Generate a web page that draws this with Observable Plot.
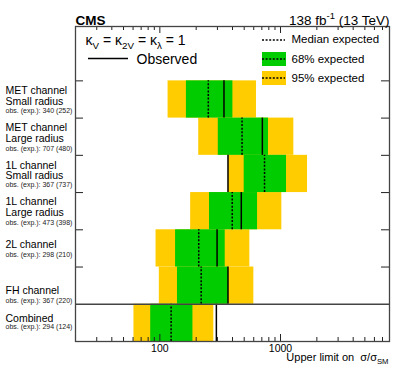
<!DOCTYPE html>
<html><head><meta charset="utf-8">
<script src="https://cdn.jsdelivr.net/npm/d3@7"></script>
<script src="https://cdn.jsdelivr.net/npm/@observablehq/plot@0.6"></script>
<style>body{margin:0;background:#fff} svg{display:block}</style>
</head><body><div id="chart"></div>
<script>
// ---- data ----
const channels = ["MET channel\nSmall radius", "MET channel\nLarge radius", "1L channel\nSmall radius", "1L channel\nLarge radius", "2L channel", "FH channel", "Combined"];
const observed = [340, 707, 367, 473, 298, 367, 294];
const expected = [252, 480, 737, 398, 210, 220, 124];
const low95  = [117, 210, 370, 180, 93, 99, 61];
const low68  = [166, 305, 500, 258, 135, 140, 84];
const high68 = [403, 795, 1121, 645, 348, 371, 188];
const high95 = [632, 1289, 1674, 1025, 557, 601, 280];
const majorTicks = [100, 1000];
const minorTicks = [30,40,50,60,70,80,90,200,300,400,500,600,700,800,900,2000,3000,4000,5000,6000,7000];
const xDomain = [20, 8000];
const legendLabels = ["Median expected", "68% expected", "95% expected"];

// ---- layout ----
const W = 399, H = 371, mL = 75, mR = 10, mT = 26, mB = 30;
const innerW = W - mL - mR, innerH = H - mT - mB;
const nRows = channels.length;
const yMax = 8.46;
const rowPx = innerH / yMax;
const mainBase = [24, 23.7, 24, 23, 18.3, 27, 17.7];
const obsBase  = [32, 33, 32, 32, 27.7, 35.5, 24.5];
const legendBase = [16.5, 36.5, 55.7];
const FONT = "'Liberation Sans', Arial, Helvetica, sans-serif";
const YELLOW = "#ffcc00", GREEN = "#00cc00", FRAME = "#444";

const rows = channels.map((c, i) => ({
  label: c, obs: observed[i], exp: expected[i],
  lo95: low95[i], lo68: low68[i], hi68: high68[i], hi95: high95[i],
  obsText: `obs. (exp.): ${observed[i]} (${expected[i]})`,
  top: nRows - i, bottom: nRows - i - 1,
  yMain: nRows - i - mainBase[i] / rowPx,
  yObs: nRows - i - obsBase[i] / rowPx
}));
const boundaries = d3.range(2, nRows + 1);

const svg = Plot.plot({
  width: W, height: H,
  marginLeft: mL, marginRight: mR, marginTop: mT, marginBottom: mB,
  style: {fontFamily: FONT, background: "#fff", color: "#000"},
  x: {type: "log", domain: xDomain, axis: null},
  y: {domain: [0, yMax], axis: null},
  marks: [
    Plot.rect(rows, {x1: "lo95", x2: "hi95", y1: "bottom", y2: "top", fill: YELLOW}),
    Plot.rect(rows, {x1: "lo68", x2: "hi68", y1: "bottom", y2: "top", fill: GREEN}),
    Plot.ruleX(rows, {x: "exp", y1: "bottom", y2: "top", stroke: "#000", strokeWidth: 1.5, strokeDasharray: "2,1.6"}),
    Plot.ruleX(rows, {x: "obs", y1: "bottom", y2: "top", stroke: "#000", strokeWidth: 1.5}),
    Plot.ruleY([1], {stroke: FRAME, strokeWidth: 1.3}),
    // x ticks (inward, bottom and top)
    Plot.tickX(minorTicks, {x: d => d, insetTop: innerH - 4, stroke: "#222"}),
    Plot.tickX(minorTicks, {x: d => d, insetBottom: innerH - 4, stroke: "#222"}),
    Plot.tickX(majorTicks, {x: d => d, insetTop: innerH - 7, stroke: "#222"}),
    Plot.tickX(majorTicks, {x: d => d, insetBottom: innerH - 7, stroke: "#222"}),
    // y ticks at row boundaries (inward, left and right)
    Plot.tickY(boundaries, {y: d => d, insetRight: innerW - 8, stroke: "#222"}),
    Plot.tickY(boundaries, {y: d => d, insetLeft: innerW - 8, stroke: "#222"}),
    Plot.frame({stroke: FRAME, strokeWidth: 1.3}),
    // tick labels
    Plot.text(majorTicks, {x: d => d, frameAnchor: "bottom", dy: 10.5, lineAnchor: "bottom", text: d => String(d), fontSize: 10.5, fill: "#000"}),
    Plot.text(["AXISTITLE"], {frameAnchor: "bottom-right", dx: -1, dy: 19, textAnchor: "end", lineAnchor: "bottom", fontSize: 11, fill: "#000"}),
    // channel labels
    Plot.text(rows, {y: "yMain", text: "label", frameAnchor: "left", dx: -70, textAnchor: "start", lineAnchor: "bottom", lineHeight: 1.02, fontSize: 10.5, fill: "#000"}),
    Plot.text(rows, {y: "yObs", text: "obsText", frameAnchor: "left", dx: -70, textAnchor: "start", lineAnchor: "bottom", fontSize: 7, fill: "#222"}),
    // header
    Plot.text(["CMS"], {frameAnchor: "top-left", dy: -2, textAnchor: "start", lineAnchor: "bottom", fontWeight: "bold", fontSize: 13.5, fill: "#000"}),
    Plot.text(["LUMI"], {frameAnchor: "top-right", dy: -2, textAnchor: "end", lineAnchor: "bottom", fontSize: 13.5, fill: "#000"}),
    // legend texts
    Plot.text(["KAPPA"], {frameAnchor: "top-left", dx: 10, dy: 18.5, textAnchor: "start", lineAnchor: "bottom", fontSize: 14, fill: "#000"}),
    Plot.text(["Observed"], {frameAnchor: "top-left", dx: 61, dy: 37, textAnchor: "start", lineAnchor: "bottom", fontSize: 14, fill: "#000"}),
    ...legendLabels.map((t, i) => Plot.text([t], {frameAnchor: "top-left", dx: 216, dy: legendBase[i], textAnchor: "start", lineAnchor: "bottom", fontSize: 11.5, fill: "#000"}))
  ]
});

function rich(key, parts, fs) {
  const el = Array.from(svg.querySelectorAll("text")).find(t => t.textContent === key);
  if (!el) return;
  el.textContent = "";
  let shift = 0;
  for (const [t, kind] of parts) {
    const ts = document.createElementNS("http://www.w3.org/2000/svg", "tspan");
    const target = kind === "sub" ? fs * 0.3 : kind === "sup" ? -fs * 0.38 : 0;
    ts.setAttribute("dy", target - shift);
    shift = target;
    if (kind !== "n") ts.setAttribute("font-size", fs * 0.7);
    ts.textContent = t;
    el.appendChild(ts);
  }
}
rich("AXISTITLE", [["Upper limit on\u00a0\u00a0σ/σ", "n"], ["SM", "sub"]], 11);
rich("LUMI", [["138 fb", "n"], ["-1", "sup"], ["\u00a0(13 TeV)", "n"]], 13.5);
rich("KAPPA", [["κ", "n"], ["V", "sub"], ["\u00a0= κ", "n"], ["2V", "sub"], ["\u00a0= κ", "n"], ["λ", "sub"], ["\u00a0= 1", "n"]], 14);

// legend graphics
const sel = d3.select(svg);
const lg = sel.append("g");
lg.append("line").attr("x1", 88).attr("x2", 128).attr("y1", 58.5).attr("y2", 58.5).attr("stroke", "#000").attr("stroke-width", 1.5);
lg.append("line").attr("x1", 262).attr("x2", 285).attr("y1", 40).attr("y2", 40).attr("stroke", "#000").attr("stroke-width", 1.3).attr("stroke-dasharray", "2,1.6");
lg.append("rect").attr("x", 262).attr("y", 52).attr("width", 24).attr("height", 14).attr("fill", GREEN);
lg.append("line").attr("x1", 262).attr("x2", 285).attr("y1", 59).attr("y2", 59).attr("stroke", "#000").attr("stroke-width", 1.3).attr("stroke-dasharray", "2,1.6");
lg.append("rect").attr("x", 262).attr("y", 71).attr("width", 24).attr("height", 14).attr("fill", YELLOW);
lg.append("line").attr("x1", 262).attr("x2", 285).attr("y1", 78).attr("y2", 78).attr("stroke", "#000").attr("stroke-width", 1.3).attr("stroke-dasharray", "2,1.6");

document.getElementById("chart").appendChild(svg);
</script>
</body></html>
